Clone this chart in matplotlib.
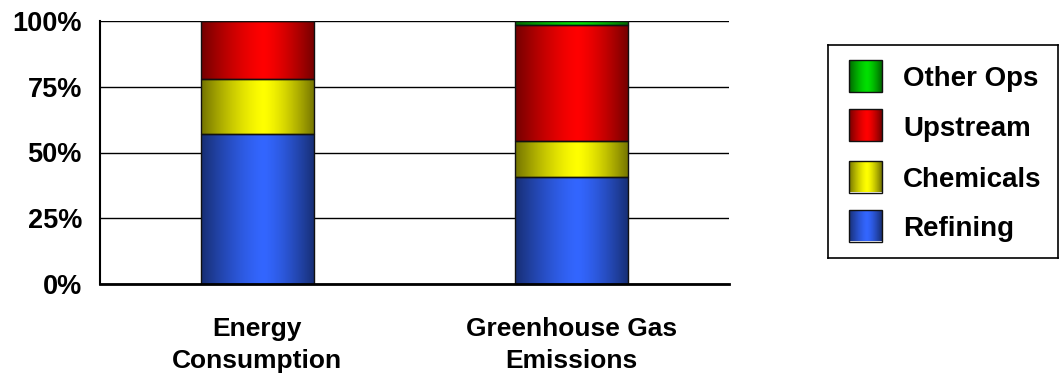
import numpy as np
import matplotlib
matplotlib.use("Agg")
import matplotlib.pyplot as plt
from matplotlib.patches import Rectangle

plt.rcParams['font.family'] = ['Liberation Sans', 'DejaVu Sans']
plt.rcParams['font.weight'] = 'bold'

# Shares of each operation (%)
categories = ["Energy\nConsumption", "Greenhouse Gas\nEmissions"]
refining = [57.0, 40.5]
chemicals = [21.0, 14.0]
upstream = [22.0, 44.0]
other_ops = [0.0, 1.5]

series_names = ["Refining", "Chemicals", "Upstream", "Other Ops"]
series_values = [refining, chemicals, upstream, other_ops]
series_colors = ["#3366ff", "#ffff00", "#ff0000", "#00e000"]

y_ticks = [0, 25, 50, 75, 100]
y_tick_labels = ["0%", "25%", "50%", "75%", "100%"]


def shade_strip(color, n=256, peak=0.55):
    """Horizontal cylinder-like shading: dark at the edges, full colour near the middle."""
    rgb = np.array(matplotlib.colors.to_rgb(color))
    t = np.linspace(0, 1, n)
    d = np.where(t < peak, (peak - t) / peak, (t - peak) / (1 - peak))
    f = 1.0 - 0.55 * d ** 1.4
    return (f[:, None] * rgb[None, :])[None, :, :]


fig = plt.figure(figsize=(10.61, 3.74), dpi=100)
ax = fig.add_axes([100 / 1061, 1 - 284 / 374, 629 / 1061, 263 / 374])

x = np.arange(len(categories))
bar_width = 0.36
bottom = np.zeros(len(categories))
for name, vals, col in zip(series_names, series_values, series_colors):
    vals = np.asarray(vals)
    bars = ax.bar(x, vals, bar_width, bottom=bottom, color="none",
                  edgecolor="#111111", linewidth=1.0, zorder=3, label=name)
    for rect, v in zip(bars, vals):
        if v <= 0:
            continue
        x0, y0 = rect.get_x(), rect.get_y()
        w, h = rect.get_width(), rect.get_height()
        im = ax.imshow(shade_strip(col), extent=(x0, x0 + w, y0, y0 + h),
                       aspect="auto", interpolation="bilinear", zorder=2)
        im.set_clip_path(rect)
    bottom += vals

ax.set_xlim(-0.5, 1.5)
ax.set_ylim(0, 100)
ax.set_yticks(y_ticks)
ax.set_yticklabels(y_tick_labels, fontsize=19.5, fontweight="bold")
ax.set_xticks(x)
ax.set_xticklabels(categories, fontsize=19, fontweight="bold", linespacing=1.43)
ax.tick_params(axis="both", length=0)
ax.tick_params(axis="y", pad=13)
ax.tick_params(axis="x", pad=23.5)
ax.yaxis.grid(True, color="#000000", linewidth=1.0, zorder=1)
ax.set_axisbelow(True)
for s in ("top", "right"):
    ax.spines[s].set_visible(False)
ax.spines["left"].set_linewidth(1.5)
ax.spines["bottom"].set_linewidth(2.0)
ax.spines["bottom"].set_zorder(4)

# Legend panel, top entry first
lax = fig.add_axes([828 / 1061, 1 - 258 / 374, 230 / 1061, 213 / 374])
lax.set_xticks([])
lax.set_yticks([])
for s in lax.spines.values():
    s.set_linewidth(1.2)
entry_y = [31, 80, 131.5, 180.5]
for yc, name, col in zip(entry_y, series_names[::-1], series_colors[::-1]):
    sq = Rectangle((21, yc - 16), 33, 32, facecolor="none",
                   edgecolor="#111111", linewidth=1.0, zorder=3)
    lax.add_patch(sq)
    im = lax.imshow(shade_strip(col), extent=(21, 54, yc + 16, yc - 16),
                    aspect="auto", interpolation="bilinear", zorder=2)
    im.set_clip_path(sq)
    lax.text(75, yc + 10.5, name, fontsize=20, fontweight="bold",
             va="baseline", ha="left")
lax.set_xlim(0, 230)
lax.set_ylim(213, 0)

fig.savefig("out.png", dpi=100)
